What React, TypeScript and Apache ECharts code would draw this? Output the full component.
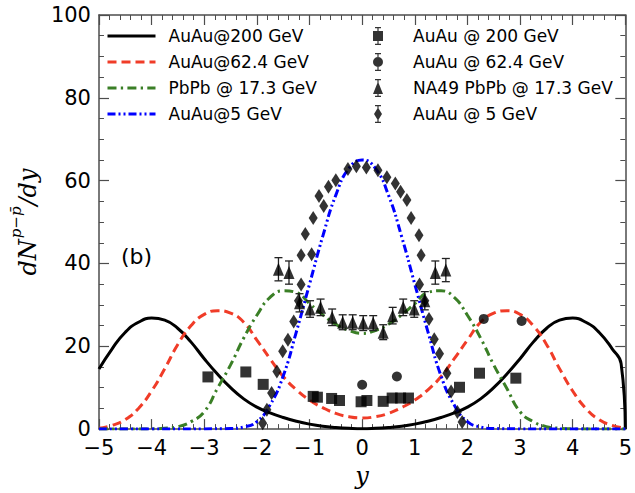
import React, { useEffect, useRef } from "react";
import * as echarts from "echarts";

// ---------- data ----------
const xTickMin = -5;
const xTickMax = 5;
const yTickMin = 0;
const yTickMax = 100;

const auau200Curve: number[][] = [
  [-5.0, 14.5], [-4.75, 19.4], [-4.5, 23.4], [-4.25, 25.8], [-4.0, 26.8], [-3.75, 26.3],
  [-3.5, 24.3], [-3.25, 21.0], [-3.0, 17.0], [-2.75, 13.3], [-2.5, 10.0], [-2.25, 7.3],
  [-2.0, 5.3], [-1.75, 3.9], [-1.5, 2.8], [-1.25, 1.9], [-1.0, 1.2], [-0.75, 0.7],
  [-0.5, 0.4], [-0.25, 0.2], [0, 0.1], [0.25, 0.2], [0.5, 0.4], [0.75, 0.7], [1.0, 1.2],
  [1.25, 1.9], [1.5, 2.8], [1.75, 3.9], [2.0, 5.3], [2.25, 7.3], [2.5, 10.0], [2.75, 13.3],
  [3.0, 17.0], [3.25, 21.0], [3.5, 24.3], [3.75, 26.3], [4.0, 26.8], [4.25, 25.8],
  [4.5, 23.4], [4.75, 19.4], [4.92, 15.8], [5.0, 0],
];

const auau62Curve: number[][] = [
  [-5.0, 0.2], [-4.75, 0.9], [-4.5, 2.3], [-4.25, 5.0], [-4.0, 9.2], [-3.75, 14.6],
  [-3.5, 20.5], [-3.25, 25.0], [-3.0, 27.7], [-2.75, 28.6], [-2.5, 28.0], [-2.25, 25.8],
  [-2.0, 21.5], [-1.75, 17.0], [-1.5, 12.7], [-1.25, 9.5], [-1.0, 7.0], [-0.75, 5.2],
  [-0.5, 3.8], [-0.25, 3.0], [0, 2.7], [0.25, 3.0], [0.5, 3.8], [0.75, 5.2], [1.0, 7.0],
  [1.25, 9.5], [1.5, 12.7], [1.75, 17.0], [2.0, 21.5], [2.25, 25.8], [2.5, 28.0],
  [2.75, 28.6], [3.0, 27.7], [3.25, 25.0], [3.5, 20.5], [3.75, 14.6], [4.0, 9.2],
  [4.25, 5.0], [4.5, 2.3], [4.75, 0.9], [5.0, 0.2],
];

const pbpb17Curve: number[][] = [
  [-5.0, 0], [-4.5, 0], [-4.0, 0.05], [-3.75, 0.2], [-3.5, 0.6], [-3.25, 1.8], [-3.0, 4.2],
  [-2.75, 9.8], [-2.5, 15.5], [-2.25, 22.0], [-2.0, 27.5], [-1.75, 31.8], [-1.5, 33.4],
  [-1.25, 33.0], [-1.0, 30.3], [-0.75, 27.6], [-0.5, 25.3], [-0.25, 23.8], [0, 23.1],
  [0.25, 23.8], [0.5, 25.3], [0.75, 27.6], [1.0, 30.3], [1.25, 33.0], [1.5, 33.4],
  [1.75, 31.8], [2.0, 27.5], [2.25, 22.0], [2.5, 15.5], [2.75, 9.8], [3.0, 4.2],
  [3.25, 1.8], [3.5, 0.6], [3.75, 0.2], [4.0, 0.05], [4.5, 0], [5.0, 0],
];

const auau5Curve: number[][] = [
  [-5.0, 0], [-4.0, 0], [-3.0, 0.05], [-2.5, 0.15], [-2.25, 0.5], [-2.0, 1.8],
  [-1.75, 5.8], [-1.5, 12.8], [-1.25, 23.5], [-1.0, 35.0], [-0.75, 46.5], [-0.5, 56.5],
  [-0.25, 63.0], [0, 65.0], [0.25, 63.0], [0.5, 56.5], [0.75, 46.5], [1.0, 35.0],
  [1.25, 23.5], [1.5, 12.8], [1.75, 5.8], [2.0, 1.8], [2.25, 0.5], [2.5, 0.15],
  [3.0, 0.05], [4.0, 0], [5.0, 0],
];

const auau200Data: number[][] = [
  [-2.93, 12.6], [-2.21, 13.8], [-1.88, 10.8], [-0.93, 7.9], [-0.85, 7.7], [-0.58, 7.4],
  [-0.43, 6.9], [-0.02, 6.6], [0.09, 6.9], [0.4, 6.7], [0.57, 7.5], [0.73, 7.5],
  [0.88, 7.5], [1.85, 10.1], [2.23, 13.5], [2.92, 12.3],
];

const auau62Data: number[][] = [
  [0.0, 10.7], [0.66, 12.7], [2.31, 26.6], [3.03, 26.1],
];

// [y, dN/dy, error]
const na49Data: number[][] = [
  [-1.59, 38.6, 2.8], [-1.39, 37.8, 2.8], [-1.19, 30.5, 2.2], [-0.99, 29.0, 2.0],
  [-0.79, 29.4, 2.0], [-0.57, 27.0, 2.0], [-0.37, 25.8, 1.8], [-0.18, 25.8, 1.8],
  [0.02, 25.6, 1.8], [0.21, 25.6, 1.8], [0.4, 23.4, 1.8], [0.58, 27.4, 2.0],
  [0.78, 29.4, 2.0], [0.99, 29.0, 2.0], [1.19, 31.0, 2.2], [1.39, 37.8, 2.8],
  [1.59, 38.4, 2.8],
];

const auau5Data: number[][] = [
  [-1.89, 1.4], [-1.81, 4.7], [-1.72, 8.7], [-1.62, 13.9], [-1.51, 18.8], [-1.41, 21.6],
  [-1.3, 26.0], [-1.21, 31.0], [-1.16, 34.9], [-1.16, 42.0], [-1.08, 47.1], [-0.96, 42.2],
  [-0.93, 51.0], [-0.82, 56.3], [-0.73, 53.9], [-0.64, 58.5], [-0.5, 60.1], [-0.27, 62.8],
  [-0.11, 63.5], [0.08, 63.2], [0.3, 62.5], [0.47, 60.8], [0.63, 59.3], [0.73, 57.3],
  [0.85, 55.3], [0.93, 51.0], [1.08, 46.8], [1.12, 42.0], [1.09, 34.9], [1.19, 31.0],
  [1.27, 26.6], [1.37, 21.7], [1.47, 18.2], [1.61, 13.5], [1.69, 9.1], [1.81, 4.1],
  [1.9, 1.7],
];

const lineNames = ["AuAu@200 GeV", "AuAu@62.4 GeV", "PbPb @ 17.3 GeV", "AuAu@5 GeV"];
const pointNames = ["AuAu @ 200 GeV", "AuAu @ 62.4 GeV", "NA49 PbPb @ 17.3 GeV", "AuAu @ 5 GeV"];

// ---------- styling ----------
const SPINE = "#4d4d4d";
const RED = "#f03c28";
const GREEN = "#3a7f26";
const BLUE = "#0000ff";

// legend icons (marker + error bar), box 10 x 18
const BAR = "M4.4,0 L5.6,0 L5.6,18 L4.4,18 Z M2,0 L8,0 L8,1.2 L2,1.2 Z M2,16.8 L8,16.8 L8,18 L2,18 Z ";
const ICON_SQUARE = "path://" + BAR + "M0,4 L10,4 L10,14 L0,14 Z";
const ICON_CIRCLE = "path://" + BAR + "M0,9 A5,5 0 1,1 10,9 A5,5 0 1,1 0,9 Z";
const ICON_TRI = "path://" + BAR + "M5,2.5 L10,15 L0,15 Z";
const ICON_DIA = "path://" + BAR + "M5,2.5 L9,9 L5,15.5 L1,9 Z";

const tickFmt = (v: number) => String(v).replace("-", "\u2212");

function makeXAxis(bottom: boolean): any {
  return {
    type: "value",
    min: xTickMin,
    max: xTickMax,
    interval: 1,
    position: bottom ? "bottom" : "top",
    axisLine: { show: true, onZero: false, lineStyle: { color: SPINE, width: 1.5 } },
    axisTick: { show: true, inside: true, length: 10, lineStyle: { color: SPINE, width: 1.2 } },
    minorTick: { show: true, splitNumber: 5, length: 5, lineStyle: { color: SPINE, width: 1 } },
    splitLine: { show: false },
    minorSplitLine: { show: false },
    axisLabel: bottom
      ? { show: true, fontSize: 21, lineHeight: 22, color: "#000", fontFamily: "DejaVu Sans", margin: 8, formatter: tickFmt }
      : { show: false },
    ...(bottom
      ? {
          name: "y",
          nameLocation: "middle",
          nameGap: 32,
          nameTextStyle: { fontFamily: "DejaVu Serif", fontStyle: "italic", fontSize: 24, color: "#000" },
        }
      : {}),
  };
}

function makeYAxis(left: boolean): any {
  return {
    type: "value",
    min: yTickMin,
    max: yTickMax,
    interval: 20,
    position: left ? "left" : "right",
    axisLine: { show: true, onZero: false, lineStyle: { color: SPINE, width: 1.5 } },
    axisTick: { show: true, inside: true, length: 10, lineStyle: { color: SPINE, width: 1.2 } },
    minorTick: { show: true, splitNumber: 4, length: 5, lineStyle: { color: SPINE, width: 1 } },
    splitLine: { show: false },
    minorSplitLine: { show: false },
    axisLabel: left
      ? { show: true, fontSize: 21, lineHeight: 12, color: "#000", fontFamily: "DejaVu Sans", margin: 8, formatter: tickFmt }
      : { show: false },
    ...(left
      ? {
          name: "{a|dN}{s|p\u2212p\u0304}{a|/dy}",
          nameLocation: "middle",
          nameRotate: 90,
          nameGap: 54,
          nameTextStyle: {
            color: "#000",
            rich: {
              a: { fontFamily: "DejaVu Serif", fontStyle: "italic", fontSize: 24, lineHeight: 32, verticalAlign: "bottom" },
              s: { fontFamily: "DejaVu Serif", fontStyle: "italic", fontSize: 15, lineHeight: 32, verticalAlign: "top", padding: [0, 1, 0, 1] },
            },
          },
        }
      : {}),
  };
}

const lineSeries = (name: string, data: number[][], color: string, type: any, z: number) => ({
  name,
  type: "line",
  data,
  symbol: "none",
  showSymbol: false,
  smooth: 0.5,
  clip: true,
  z,
  lineStyle: { color, width: 3, type, cap: "butt" },
  itemStyle: { color },
});

export default function App() {
  const ref = useRef<HTMLDivElement>(null);

  useEffect(() => {
    if (!ref.current) return;
    const chart = echarts.init(ref.current, null, { renderer: "svg" });

    const option: any = {
      animation: false,
      backgroundColor: "#fff",
      grid: { left: 95, right: 4, top: 15, bottom: 60, containLabel: false },
      xAxis: [makeXAxis(true), makeXAxis(false)],
      yAxis: [makeYAxis(true), makeYAxis(false)],
      legend: [
        {
          data: lineNames,
          orient: "vertical",
          left: 106,
          top: 23,
          padding: 0,
          itemWidth: 48,
          itemHeight: 14,
          itemGap: 0,
          selectedMode: false,
          lineStyle: { width: 3 },
          itemStyle: { opacity: 0 },
          textStyle: { fontSize: 17, lineHeight: 26, fontFamily: "DejaVu Sans", color: "#000", padding: [0, 0, 0, 8] },
        },
        {
          data: [
            { name: pointNames[0], icon: ICON_SQUARE },
            { name: pointNames[1], icon: ICON_CIRCLE },
            { name: pointNames[2], icon: ICON_TRI },
            { name: pointNames[3], icon: ICON_DIA },
          ],
          orient: "vertical",
          left: 373,
          top: 23,
          padding: 0,
          itemWidth: 10,
          itemHeight: 18,
          itemGap: 0,
          selectedMode: false,
          itemStyle: { color: "#000" },
          textStyle: { fontSize: 17, lineHeight: 26, fontFamily: "DejaVu Sans", color: "#000", padding: [0, 0, 0, 25] },
        },
      ],
      graphic: [
        {
          type: "text",
          left: 121,
          top: 245,
          style: { text: "(b)", fontSize: 22, fontFamily: "DejaVu Sans", fill: "#000" },
        },
      ],
      series: [
        lineSeries(lineNames[0], auau200Curve, "#000000", "solid", 2),
        lineSeries(lineNames[1], auau62Curve, RED, [9, 5], 2),
        lineSeries(lineNames[2], pbpb17Curve, GREEN, [9, 4.3, 2.3, 4.3], 2),
        lineSeries(lineNames[3], auau5Curve, BLUE, [8, 3, 2, 3, 2, 3], 2),
        {
          name: pointNames[0],
          type: "scatter",
          data: auau200Data,
          symbol: "rect",
          symbolSize: 11,
          itemStyle: { color: "#000" },
          z: 5,
        },
        {
          name: pointNames[1],
          type: "scatter",
          data: auau62Data,
          symbol: "circle",
          symbolSize: 10,
          itemStyle: { color: "#000" },
          z: 5,
        },
        {
          name: "na49err",
          type: "custom",
          data: na49Data,
          encode: { x: 0, y: 1 },
          z: 4,
          renderItem: (params: any, api: any) => {
            const x = api.value(0);
            const y = api.value(1);
            const e = api.value(2);
            const hi = api.coord([x, y + e]);
            const lo = api.coord([x, y - e]);
            const cw = 4;
            const st = { stroke: "#222", lineWidth: 1.3 };
            return {
              type: "group",
              children: [
                { type: "line", shape: { x1: hi[0], y1: hi[1], x2: lo[0], y2: lo[1] }, style: st },
                { type: "line", shape: { x1: hi[0] - cw, y1: hi[1], x2: hi[0] + cw, y2: hi[1] }, style: st },
                { type: "line", shape: { x1: lo[0] - cw, y1: lo[1], x2: lo[0] + cw, y2: lo[1] }, style: st },
              ],
            };
          },
        },
        {
          name: pointNames[2],
          type: "scatter",
          data: na49Data.map((d) => [d[0], d[1]]),
          symbol: "triangle",
          symbolSize: [11, 13],
          itemStyle: { color: "#000" },
          z: 5,
        },
        {
          name: pointNames[3],
          type: "scatter",
          data: auau5Data,
          symbol: "diamond",
          symbolSize: [9, 14],
          itemStyle: { color: "#000" },
          z: 5,
        },
      ],
    };

    chart.setOption(option);
    return () => chart.dispose();
  }, []);

  return (
    <div
      ref={ref}
      style={{ position: "fixed", left: 0, top: 0, width: 635, height: 493, background: "#fff" }}
    />
  );
}
